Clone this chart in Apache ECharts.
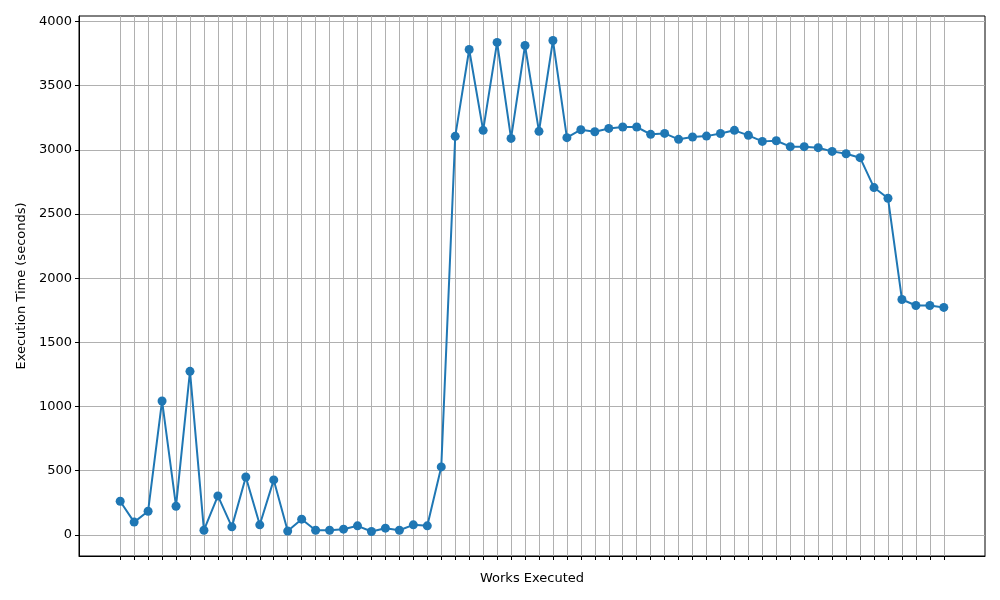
<!DOCTYPE html>
<html><head><meta charset="utf-8">
<script src="https://cdn.jsdelivr.net/npm/echarts@6/dist/echarts.min.js"></script>
<style>html,body{margin:0;padding:0;background:#fff}#c{width:1000px;height:600px}</style>
</head><body><div id="c"></div>
<script>
const executionTimes = [262, 99, 184, 1043, 223, 1274, 36, 303, 62, 451, 78, 428, 29, 122, 36, 36, 44, 70, 26, 52, 36, 78, 70, 529,
  3105, 3782, 3152, 3837, 3089, 3813, 3144, 3852, 3095, 3157, 3141, 3167, 3178, 3178, 3121, 3128, 3082, 3100, 3107, 3127, 3152, 3113,
  3066, 3071, 3025, 3025, 3017, 2988, 2970, 2939, 2706, 2623, 1834, 1787, 1787, 1772];
const yTicks = [0, 500, 1000, 1500, 2000, 2500, 3000, 3500, 4000];
const workIndex = executionTimes.map((v, i) => i);

const font = 'DejaVu Sans';
const chart = echarts.init(document.getElementById('c'), null, {renderer: 'canvas'});
chart.setOption({
  animation: false,
  grid: {left: 79, right: 15, top: 16, bottom: 44, show: true, borderColor: '#000', borderWidth: 1, backgroundColor: 'transparent'},
  xAxis: {
    type: 'value', min: -2.95, max: 61.95,
    name: 'Works Executed', nameLocation: 'middle', nameGap: 16,
    nameTextStyle: {fontFamily: font, fontSize: 13, color: '#000'},
    axisLine: {show: true, onZero: false, lineStyle: {color: '#000', width: 1}},
    axisTick: {show: true, customValues: workIndex, length: 4, lineStyle: {color: '#000', width: 1}},
    axisLabel: {show: false, customValues: workIndex},
    splitLine: {show: true, lineStyle: {color: '#b0b0b0', width: 1}}
  },
  yAxis: {
    type: 'value', min: -165, max: 4043,
    name: 'Execution Time (seconds)', nameLocation: 'middle', nameGap: 51,
    nameTextStyle: {fontFamily: font, fontSize: 13, color: '#000'},
    axisLine: {show: true, onZero: false, lineStyle: {color: '#000', width: 1}},
    axisTick: {show: true, customValues: yTicks, length: 4, lineStyle: {color: '#000', width: 1}},
    axisLabel: {show: true, customValues: yTicks, fontFamily: font, fontSize: 13, color: '#000', margin: 7,
      formatter: v => String(v)},
    splitLine: {show: true, lineStyle: {color: '#b0b0b0', width: 1}}
  },
  series: [{
    type: 'line',
    data: executionTimes.map((v, i) => [workIndex[i], v]),
    symbol: 'circle', symbolSize: 9,
    lineStyle: {color: '#1f77b4', width: 2},
    itemStyle: {color: '#1f77b4'}
  }]
});
</script></body></html>
